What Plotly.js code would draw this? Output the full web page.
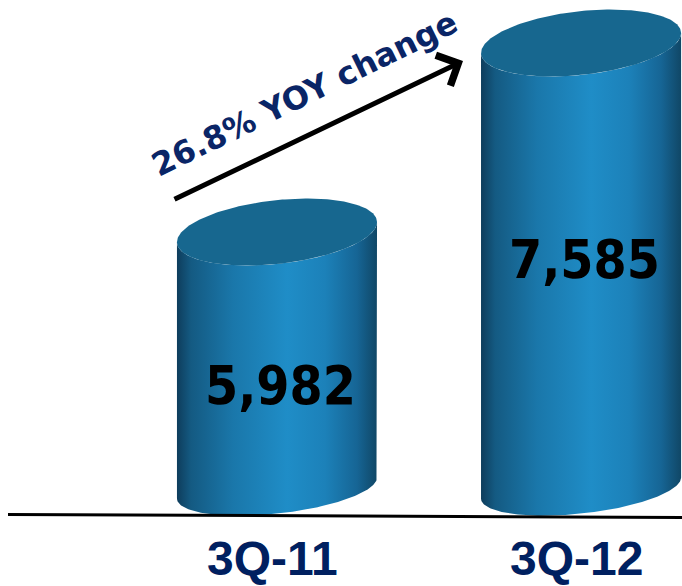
<!DOCTYPE html>
<html>
<head>
<meta charset="utf-8">
<script src="https://cdn.plot.ly/plotly-3.0.1.min.js"></script>
<style>html,body{margin:0;padding:0;background:#fff;}#chart{width:682px;height:586px;}</style>
</head>
<body>
<div id="chart"></div>
<script>
// ---- data ----
const categories = ['3Q-11', '3Q-12'];
const values = [5982, 7585];
const yoyText = '26.8% YOY change';

// ---- style / geometry constants ----
const YMIN = 2980, YMAX = 7950;      // value axis range
const XMIN = -0.911, XMAX = 1.332;   // category axis range
const BASE = 3810;                   // cylinder base level
const HW = 0.329;                    // half width (x units)
const TOP_B = 271, TOP_G = 85;       // top ellipse half-height / tilt (y units)
const BOT_B = 216, BOT_G = 89;       // bottom ellipse half-height / tilt
const N = 120;
const labelY = [0.343, 0.558];       // paper y of value labels

const bodyScale = [
  [0, '#0e3d5c'], [0.07, '#145a82'], [0.28, '#1a77aa'], [0.55, '#1f8dc7'],
  [0.74, '#1c81b9'], [0.9, '#166595'], [1, '#104766']
];

const traces = [];
categories.forEach((cat, i) => {
  const v = values[i];
  const bx = [], by = [];
  for (let k = 0; k <= N; k++) {
    const t = Math.PI + Math.PI * k / N;
    bx.push(i + HW * Math.cos(t));
    by.push(v + TOP_B * Math.sin(t) + TOP_G * Math.cos(t));
  }
  for (let k = 0; k <= N; k++) {
    const t = 2 * Math.PI - Math.PI * k / N;
    bx.push(i + HW * Math.cos(t));
    by.push(BASE + BOT_B * Math.sin(t) + BOT_G * Math.cos(t));
  }
  bx.push(bx[0]); by.push(by[0]);
  traces.push({
    type: 'scatter', mode: 'lines', x: bx, y: by, fill: 'toself',
    line: {width: 0, color: 'rgba(0,0,0,0)'},
    fillgradient: {type: 'horizontal', colorscale: bodyScale},
    hoverinfo: 'skip', showlegend: false
  });
  const cx = [], cy = [];
  for (let k = 0; k <= 2 * N; k++) {
    const t = 2 * Math.PI * k / (2 * N);
    cx.push(i + HW * Math.cos(t));
    cy.push(v + TOP_B * Math.sin(t) + TOP_G * Math.cos(t));
  }
  traces.push({
    type: 'scatter', mode: 'lines', x: cx, y: cy, fill: 'toself',
    fillcolor: '#17678f', line: {width: 0, color: 'rgba(0,0,0,0)'},
    hoverinfo: 'skip', showlegend: false
  });
});

const annotations = [];
categories.forEach((cat, i) => {
  annotations.push({
    x: i, xref: 'x', y: labelY[i], yref: 'paper', xshift: 3,
    text: values[i].toLocaleString('en-US'), showarrow: false,
    font: {family: 'DejaVu Sans Condensed, DejaVu Sans, sans-serif', size: 53, color: '#000', weight: 'bold'},
    xanchor: 'center', yanchor: 'middle'
  });
  annotations.push({
    x: i, xref: 'x', y: 0, yref: 'paper', xshift: -5, yshift: 0,
    text: '<b>' + cat + '</b>', showarrow: false,
    font: {family: 'Liberation Sans, Arial, sans-serif', size: 48, color: '#002060'},
    xanchor: 'center', yanchor: 'bottom', borderpad: 0
  });
});
// arrow
annotations.push({
  x: 463 / 682, y: 1 - 61 / 586, xref: 'paper', yref: 'paper',
  ax: -290, ay: 139, axref: 'pixel', ayref: 'pixel',
  text: '', showarrow: true, arrowhead: 4, arrowsize: 1.3, arrowwidth: 5, arrowcolor: '#000'
});
// yoy label
annotations.push({
  x: 304 / 682, y: 1 - 94 / 586, xref: 'paper', yref: 'paper',
  text: '<b>' + yoyText + '</b>', showarrow: false, textangle: -26,
  font: {family: 'DejaVu Sans, Verdana, sans-serif', size: 32, color: '#0a2566'},
  xanchor: 'center', yanchor: 'middle'
});

const layout = {
  width: 682, height: 586,
  margin: {l: 0, r: 0, t: 0, b: 0},
  paper_bgcolor: '#fff', plot_bgcolor: '#fff',
  xaxis: {range: [XMIN, XMAX], visible: false, fixedrange: true},
  yaxis: {range: [YMIN, YMAX], visible: false, fixedrange: true},
  shapes: [{
    type: 'line', xref: 'paper', yref: 'paper', layer: 'above',
    x0: 8 / 682, y0: 1 - 514.5 / 586, x1: 1, y1: 1 - 517.5 / 586,
    line: {color: '#000', width: 3}
  }],
  annotations: annotations,
  showlegend: false
};

Plotly.newPlot('chart', traces, layout, {displayModeBar: false, staticPlot: true});
</script>
</body>
</html>
